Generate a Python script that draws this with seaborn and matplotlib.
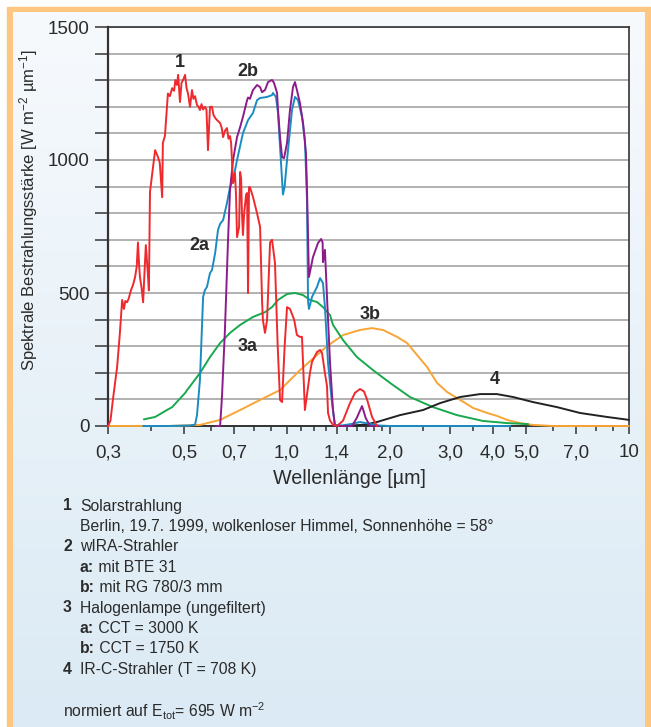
import numpy as np
import pandas as pd
import matplotlib
matplotlib.use('Agg')
import matplotlib.pyplot as plt
from matplotlib.patches import Rectangle
from matplotlib.colors import LinearSegmentedColormap
from matplotlib.ticker import NullFormatter, FixedLocator
import seaborn as sns

# ---------------- data (wavelength in µm, irradiance in W m^-2 µm^-1) ----------------
wl_1 = [0.300, 0.305, 0.310, 0.319, 0.325, 0.330, 0.334, 0.337, 0.341, 0.345, 0.350, 0.355, 0.360,
        0.364, 0.367, 0.370, 0.372, 0.376, 0.380, 0.383, 0.387, 0.391, 0.395, 0.398, 0.405, 0.412,
        0.420, 0.425, 0.432, 0.434, 0.440, 0.449, 0.455, 0.462, 0.468, 0.472, 0.477, 0.481, 0.487,
        0.492, 0.497, 0.504, 0.509, 0.514, 0.521, 0.528, 0.533, 0.539, 0.546, 0.552, 0.557, 0.563,
        0.569, 0.576, 0.582, 0.588, 0.596, 0.604, 0.610, 0.617, 0.625, 0.638, 0.645, 0.651, 0.659,
        0.668, 0.675, 0.682, 0.687, 0.691, 0.696, 0.705, 0.710, 0.715, 0.725, 0.730, 0.735, 0.739,
        0.744, 0.750, 0.760, 0.765, 0.770, 0.775, 0.780, 0.796, 0.818, 0.835, 0.846, 0.851, 0.863,
        0.875, 0.893, 0.905, 0.923, 0.940, 0.955, 0.968, 0.985, 1.001, 1.021, 1.050, 1.070, 1.092,
        1.107, 1.129, 1.153, 1.168, 1.184, 1.225, 1.250, 1.267, 1.292, 1.310, 1.319, 1.337, 1.364,
        1.401, 1.459, 1.529, 1.582, 1.636, 1.680, 1.715, 1.774, 1.834]
val_1 = [0, 20, 98, 222, 350, 474, 440, 470, 465, 480, 510, 530, 560,
         600, 690, 600, 560, 520, 465, 560, 680, 600, 510, 880, 960, 1037,
         1011, 990, 860, 1064, 1090, 1250, 1240, 1270, 1260, 1300, 1282, 1320, 1218,
         1290, 1300, 1320, 1270, 1250, 1200, 1263, 1230, 1240, 1207, 1200, 1188, 1210,
         1190, 1200, 1190, 1037, 1200, 1200, 1170, 1158, 1150, 1139, 1120, 1086, 1110,
         1120, 1080, 1090, 1064, 1000, 913, 951, 870, 710, 748, 955, 930, 800,
         718, 800, 870, 876, 500, 898, 898, 861, 800, 748, 474, 398, 350,
         398, 690, 700, 613, 300, 98, 90, 300, 447, 440, 400, 342, 335,
         335, 60, 147, 200, 241, 278, 286, 274, 199, 150, 49, 20, 5,
         0, 20, 86, 125, 139, 130, 100, 34, 0]

wl_2a = [0.380, 0.450, 0.520, 0.539, 0.546, 0.557, 0.569, 0.576, 0.584, 0.596, 0.604, 0.617, 0.629,
         0.638, 0.651, 0.668, 0.682, 0.696, 0.715, 0.744, 0.770, 0.796, 0.818, 0.835, 0.875, 0.905,
         0.911, 0.929, 0.942, 0.955, 0.968, 0.974, 0.985, 1.001, 1.035, 1.056, 1.078, 1.107, 1.129,
         1.145, 1.153, 1.160, 1.184, 1.225, 1.250, 1.275, 1.292, 1.319, 1.355, 1.382, 1.450, 1.550,
         1.636, 1.715, 1.850, 2.000, 4.500]
val_2a = [0, 0, 2, 5, 40, 173, 485, 511, 523, 575, 586, 650, 737,
          760, 774, 838, 898, 925, 1000, 1101, 1150, 1177, 1225, 1233, 1237, 1244,
          1252, 1237, 1177, 1049, 925, 870, 900, 1000, 1188, 1237, 1225, 1162, 1075,
          850, 470, 440, 485, 523, 556, 537, 447, 237, 86, 4, 2, 8,
          15, 10, 2, 0, 0]

wl_2b = [0.620, 0.638, 0.646, 0.659, 0.673, 0.682, 0.696, 0.715, 0.730, 0.744, 0.765, 0.770, 0.780,
         0.796, 0.818, 0.835, 0.846, 0.863, 0.881, 0.905, 0.917, 0.936, 0.942, 0.955, 0.968, 0.981,
         1.001, 1.021, 1.042, 1.056, 1.070, 1.092, 1.115, 1.137, 1.145, 1.160, 1.192, 1.233, 1.259,
         1.272, 1.275, 1.292, 1.310, 1.337, 1.364, 1.382, 1.550, 1.600, 1.658, 1.700, 1.750, 1.850]
val_2b = [0, 0, 109, 361, 700, 887, 1000, 1086, 1124, 1162, 1225, 1235, 1230,
          1263, 1282, 1274, 1255, 1263, 1293, 1301, 1290, 1252, 1188, 1086, 1011, 1007,
          1064, 1188, 1274, 1293, 1263, 1214, 1139, 1026, 887, 560, 635, 688, 703,
          690, 616, 662, 485, 237, 60, 0, 0, 30, 75, 30, 0, 0]

wl_3a = [0.382, 0.412, 0.446, 0.462, 0.504, 0.511, 0.557, 0.596, 0.638, 0.682, 0.730, 0.796, 0.863,
         0.905, 0.942, 1.001, 1.056, 1.115, 1.168, 1.225, 1.275, 1.337, 1.364, 1.459, 1.603, 1.786,
         2.002, 2.290, 2.674, 3.140, 3.740, 4.400, 5.070]
val_3a = [25, 34, 60, 71, 124, 135, 199, 259, 312, 350, 380, 410, 428,
          447, 474, 496, 500, 492, 474, 466, 447, 417, 380, 323, 259, 210,
          162, 109, 71, 41, 19, 11, 7]

wl_3b = [0.300, 0.450, 0.557, 0.638, 0.730, 0.835, 0.955, 1.092, 1.225, 1.310, 1.459, 1.636, 1.774,
         1.910, 2.099, 2.245, 2.401, 2.568, 2.747, 2.938, 3.210, 3.500, 3.850, 4.110, 4.400, 4.800,
         5.240, 6.000, 10.000]
val_3b = [0, 0, 4, 23, 60, 98, 135, 210, 267, 300, 342, 361, 368,
          361, 335, 312, 267, 222, 162, 128, 98, 68, 49, 38, 23, 11,
          4, 0, 0]

wl_4 = [1.450, 1.692, 1.834, 2.142, 2.500, 2.803, 3.210, 3.670, 4.110, 4.580, 5.240, 6.160, 7.190,
        8.620, 10.000]
val_4 = [0, 5, 15, 41, 60, 86, 109, 120, 120, 109, 90, 71, 49,
         34, 23]

x_major = [0.3, 0.5, 0.7, 1.0, 1.4, 2.0, 3.0, 4.0, 5.0, 7.0, 10.0]
x_major_labels = ['0,3', '0,5', '0,7', '1,0', '1,4', '2,0', '3,0', '4,0', '5,0', '7,0', '10']
x_minor = [0.4, 0.6, 0.8, 0.9, 1.1, 1.2, 1.3, 1.5, 1.6, 1.7, 1.8, 1.9, 2.5, 3.5, 4.5, 6.0, 8.0, 9.0]
y_ticks = list(range(0, 1501, 100))
y_labels = ['0', '500', '1000', '1500']

curve_labels = ['1', '2a', '2b', '3a', '3b', '4']
curve_label_pos = [(0.487, 1368), (0.554, 680), (0.770, 1331), (0.770, 297), (1.75, 421), (4.05, 173)]

legend_lines = [
    ('1', 'Solarstrahlung', None),
    ('', 'Berlin, 19.7. 1999, wolkenloser Himmel, Sonnenhöhe = 58°', None),
    ('2', 'wIRA-Strahler', None),
    ('', ' mit BTE 31', 'a:'),
    ('', ' mit RG 780/3 mm', 'b:'),
    ('3', 'Halogenlampe (ungefiltert)', None),
    ('', ' CCT = 3000 K', 'a:'),
    ('', ' CCT = 1750 K', 'b:'),
    ('4', 'IR-C-Strahler (T = 708 K)', None),
]
note = r'normiert auf E$_{\mathregular{tot}}$= 695 W m$^{\mathregular{-2}}$'

# ---------------- style ----------------
sns.set_style('white')
FAM = ['Liberation Sans', 'DejaVu Sans']
plt.rcParams['font.family'] = FAM
plt.rcParams['mathtext.fontset'] = 'custom'
plt.rcParams['mathtext.rm'] = 'Liberation Sans'
plt.rcParams['mathtext.it'] = 'Liberation Sans:italic'
plt.rcParams['mathtext.bf'] = 'Liberation Sans:bold'

W, H = 651, 727
TXT = '#2b2b2b'
LEG_FS = 11.3
fig = plt.figure(figsize=(W / 100, H / 100), dpi=100)
fig.patch.set_facecolor('white')


def fx(x):
    return x / W


def fy(y):
    return 1 - y / H


# background frame + gradient
bg = fig.add_axes([0, 0, 1, 1], zorder=-10)
bg.add_patch(Rectangle((7, 7), W - 7, H - 7, color='#fdc782', zorder=0))
cmap = LinearSegmentedColormap.from_list('bg', ['#f7fafd', '#dbeaf4'])
grad = np.linspace(0, 1, 256).reshape(-1, 1)
bg.imshow(grad, extent=(13, 645, H, 12), cmap=cmap, aspect='auto', zorder=1)
bg.set_xlim(0, W)
bg.set_ylim(H, 0)
bg.axis('off')

# main axes
ax = fig.add_axes([fx(108), fy(426), (629 - 108) / W, (426 - 27) / H])
ax.set_facecolor('white')

series = [
    (wl_3b, val_3b, '#f7a535', 3),
    (wl_3a, val_3a, '#19a84e', 4),
    (wl_4, val_4, '#222222', 4),
    (wl_2a, val_2a, '#1b8cc2', 5),
    (wl_2b, val_2b, '#8d1c8a', 6),
    (wl_1, val_1, '#ee2a2e', 7),
]
for wl, val, col, z in series:
    df = pd.DataFrame({'wl': wl, 'E': val})
    sns.lineplot(data=df, x='wl', y='E', ax=ax, color=col, lw=1.4,
                 sort=False, estimator=None, zorder=z, clip_on=False)

ax.set_xscale('log')
ax.set_xlim(0.3, 10)
ax.set_ylim(0, 1500)
ax.set_xlabel('')
ax.set_ylabel('')

ax.xaxis.set_major_locator(FixedLocator(x_major))
ax.xaxis.set_minor_locator(FixedLocator(x_minor))
ax.set_xticklabels(x_major_labels)
ax.xaxis.set_minor_formatter(NullFormatter())
ax.set_yticks(y_ticks)
ax.set_yticklabels([str(v) if str(v) in y_labels else '' for v in y_ticks])

ax.yaxis.grid(True, color='#a4a4a4', lw=1.2)
ax.xaxis.grid(False)
ax.set_axisbelow(True)

ax.tick_params(axis='x', which='major', direction='out', length=6, width=1.1, color='#333333',
               pad=7, labelsize=13.5, labelcolor=TXT, bottom=True)
ax.tick_params(axis='x', which='minor', direction='out', length=3.6, width=1.1, color='#333333',
               bottom=True)
ax.tick_params(axis='y', which='major', direction='out', length=9.4, width=1.1, color='#333333',
               pad=4, labelsize=13.5, labelcolor=TXT, left=True)

idx = x_minor.index(2.5)
ax.xaxis.get_minor_ticks()[idx].tick1line.set_color('#e0207f')

for s in ax.spines.values():
    s.set_color('#333333')
    s.set_linewidth(1.2)
    s.set_zorder(2.5)
ax.spines['left'].set_linewidth(1.6)
ax.spines['bottom'].set_linewidth(1.4)

for lab, (lx, ly) in zip(curve_labels, curve_label_pos):
    ax.text(lx, ly, lab, ha='center', va='center', fontsize=13, fontweight='bold', color=TXT, zorder=10)

# axis titles
fig.text(fx(29), fy(210), 'Spektrale Bestrahlungsstärke [W m$^{\\mathregular{-2}}$ µm$^{\\mathregular{-1}}$]',
         rotation=90, ha='center', va='center', fontsize=12, color=TXT)
fig.text(fx(349.5), fy(479), 'Wellenlänge [µm]', ha='center', va='center', fontsize=14.2, color=TXT)

# legend block
y0 = 506
dy = 20.4
for i, (num, txt, bold_pre) in enumerate(legend_lines):
    yy = y0 + i * dy
    if num:
        fig.text(fx(63), fy(yy), num, ha='left', va='center', fontsize=LEG_FS, fontweight='bold', color=TXT)
    if bold_pre:
        t = fig.text(fx(80), fy(yy), bold_pre, ha='left', va='center', fontsize=LEG_FS,
                     fontweight='bold', color=TXT)
        fig.canvas.draw()
        bb = t.get_window_extent()
        fig.text(bb.x1 / W, fy(yy), txt, ha='left', va='center', fontsize=LEG_FS, color=TXT)
    else:
        fig.text(fx(80), fy(yy), txt, ha='left', va='center', fontsize=LEG_FS, color=TXT)

fig.text(fx(63), fy(711), note, ha='left', va='center', fontsize=LEG_FS, color=TXT)

fig.savefig('out.png', dpi=100)
